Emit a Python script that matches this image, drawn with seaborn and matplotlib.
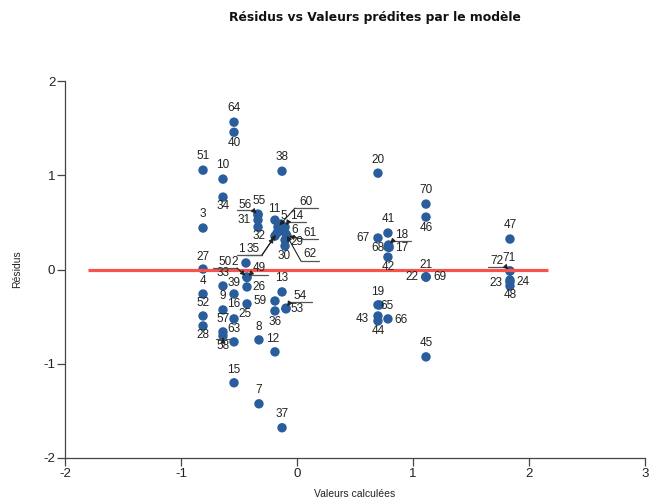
import matplotlib
matplotlib.use("Agg")
import matplotlib.pyplot as plt
import matplotlib.transforms as mtransforms
from matplotlib.lines import Line2D
import pandas as pd
import seaborn as sns

# Observation numbers, fitted values and residuals of the model
obs_id = list(range(1, 73))
fitted = [
    -0.190, -0.440, -0.810, -0.810, -0.138, -0.112, -0.328, -0.328, -0.638, -0.638,
    -0.190, -0.190, -0.129, -0.103, -0.543, -0.543, 0.795, 0.790, 0.698, 0.698,
    1.112, 1.112, 1.836, 1.836, -0.431, -0.431, -0.810, -0.810, -0.103, -0.103,
    -0.336, -0.336, -0.638, -0.638, -0.172, -0.190, -0.129, -0.129, -0.543, -0.543,
    0.784, 0.784, 0.698, 0.698, 1.112, 1.112, 1.836, 1.836, -0.431, -0.431,
    -0.810, -0.810, -0.095, -0.095, -0.336, -0.336, -0.638, -0.638, -0.190, -0.164,
    -0.086, -0.095, -0.543, -0.543, 0.710, 0.784, 0.698, 0.784, 1.112, 1.112,
    1.836, 1.836,
]
residuals = [
    0.355, 0.069, 0.440, -0.260, 0.482, 0.408, -1.425, -0.747, -0.429, 0.959,
    0.524, -0.874, -0.238, 0.450, -1.202, -0.524, 0.235, 0.260, -0.376, 1.022,
    -0.079, -0.079, -0.111, -0.132, -0.365, -0.185, 0.005, -0.599, 0.312, 0.249,
    0.524, 0.450, -0.175, 0.768, 0.387, -0.440, -1.679, 1.043, -0.260, 1.456,
    0.387, 0.132, -0.493, -0.546, -0.927, 0.556, 0.323, -0.175, -0.085, -0.079,
    1.054, -0.493, -0.418, -0.410, 0.588, 0.577, -0.662, -0.704, -0.334, 0.450,
    0.355, 0.376, -0.768, 1.563, -0.376, -0.524, 0.334, 0.238, -0.079, 0.694,
    -0.016, -0.016,
]
x_ticks = [-2, -1, 0, 1, 2, 3]
y_ticks = [-2, -1, 0, 1, 2]
zero_line_x = [-1.8, 2.16]

# Label placement: (dx, dy) of the label centre from the dot, in pixels (dy downwards)
label_offset = {
    51: (0, -14), 3: (0, -14), 27: (0, -12), 4: (0, -13), 52: (0, -13), 28: (0, 9),
    10: (0, -14), 34: (0, 9), 33: (0, -13), 9: (0, -14), 57: (0, -13),
    64: (0, -14), 40: (0, 11), 39: (0, -11), 16: (0, -15), 63: (0, -13), 15: (0, -13),
    2: (-11, -1), 26: (12, 0), 25: (-2, 10),
    55: (1, -13), 31: (-14, 0), 32: (1, 9), 8: (0, -13), 7: (0, -14),
    59: (-15, 0), 36: (0, 11), 12: (-2, -13),
    38: (0, -14), 13: (0, -14), 53: (11, 0), 37: (0, -14),
    11: (-1, -11), 5: (3, -8), 6: (11, -1), 29: (12, 2), 30: (-1, 10),
    20: (0, -13), 41: (0, -14), 67: (-15, 0), 68: (-10, 1), 17: (12, 1), 42: (0, 10),
    21: (0, -12), 22: (-14, 0), 69: (14, 0), 70: (0, -14), 46: (0, 11),
    19: (0, -13), 65: (8, 1), 43: (-16, 3), 44: (0, 10), 66: (13, 1), 45: (0, -14),
    47: (0, -14), 71: (-1, -13), 23: (-14, 3), 24: (13, 0), 48: (0, 9),
}
# Labels moved away from crowded dots: label centre, underline y, underline span,
# and the underline end the leader starts from (all pixels relative to the dot)
leader_label = {
    50: ((-22, -15), -9, (-34, -10), (-10, -9)),
    49: ((12, -10), -3, (3, 21), (3, -3)),
    56: ((-13, -10), -5, (-21, -5), (-5, -5)),
    54: ((14, -12), -6, (4, 26), (4, -6)),
    14: ((12, -11), -5, (3, 21), (3, -5)),
    60: ((28, -25), -19, (17, 40), (17, -19)),
    61: ((23, -3), 3, (16, 31), (16, 3)),
    62: ((24, 20), 27, (15, 33), (15, 27)),
    1: ((-34, 13), 19, (-38, -13), (-13, 19)),
    35: ((-24, 16), 22, (-31, -15), (-15, 22)),
    18: ((13, -10), -4, (4, 22), (4, -4)),
    72: ((-13, -10), -4, (-22, -4), (-4, -4)),
    58: ((0, 10), 3, (-7, 7), (0, 3)),
}

df = pd.DataFrame({"obs": obs_id, "fitted": fitted, "residual": residuals})

sns.set_theme(style="white")
plt.rcParams["font.family"] = ["Liberation Sans", "DejaVu Sans"]
plt.rcParams["axes.unicode_minus"] = False

W, H = 649, 504
fig = plt.figure(figsize=(W / 100, H / 100), dpi=100)
ax = fig.add_axes([65 / W, 1 - 458 / H, 580 / W, 377 / H])

sns.scatterplot(data=df, x="fitted", y="residual", ax=ax, s=46,
                color="#2a5d9c", edgecolor="none", linewidth=0, zorder=3)
ax.plot(zero_line_x, [0, 0], color="#f7534c", lw=2.3, zorder=4,
        solid_capstyle="butt")

ax.set_xlim(x_ticks[0], x_ticks[-1])
ax.set_ylim(y_ticks[0], y_ticks[-1])
ax.set_xticks(x_ticks)
ax.set_yticks(y_ticks)
ax.tick_params(axis="both", which="major", direction="out", length=6, width=0.9,
               color="#444444", labelsize=9.5, labelcolor="#222222", pad=1,
               bottom=True, left=True)
sns.despine(ax=ax)
for side in ("left", "bottom"):
    ax.spines[side].set_color("#444444")
    ax.spines[side].set_linewidth(0.9)

ax.set_xlabel("Valeurs calculées", fontsize=7.5, color="#222222", labelpad=7)
ax.set_ylabel("Résidus", fontsize=7.5, color="#222222", labelpad=15)
fig.text(375 / W, 1 - 18 / H, "Résidus vs Valeurs prédites par le modèle",
         ha="center", va="center", fontsize=8.9, fontweight="bold",
         family="DejaVu Sans", color="#111111")

label_kw = dict(textcoords="offset pixels", ha="center", va="center",
                fontsize=8.5, color="#222222", zorder=5)
ident = mtransforms.IdentityTransform()

for oid, fx, ry in zip(obs_id, fitted, residuals):
    if oid in label_offset:
        dx, dy = label_offset[oid]
        ax.annotate(str(oid), xy=(fx, ry), xytext=(dx, -dy), **label_kw)
    else:
        (tx, ty), uy, (u0, u1), (sx, sy) = leader_label[oid]
        ax.annotate(str(oid), xy=(fx, ry), xytext=(tx, -ty), **label_kw)
        px, py = ax.transData.transform((fx, ry))
        ax.add_line(Line2D([px + u0, px + u1], [py - uy, py - uy],
                           transform=ident, color="#555555", lw=0.9,
                           zorder=5, clip_on=False))
        ax.annotate("", xy=(fx, ry), xytext=(sx, -sy), textcoords="offset pixels",
                    arrowprops=dict(arrowstyle="-|>", mutation_scale=7,
                                    color="#222222", lw=0.8,
                                    shrinkA=0, shrinkB=1.5),
                    zorder=5)

fig.savefig("out.png", dpi=100)
